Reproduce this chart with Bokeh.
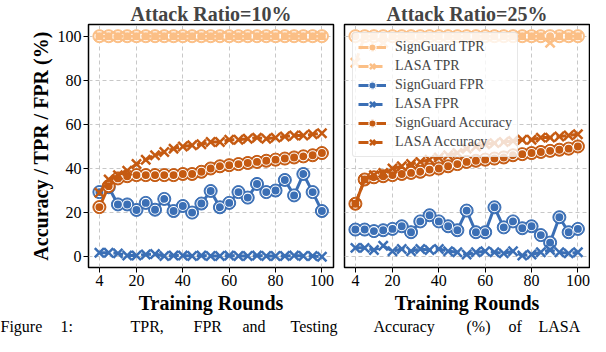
from bokeh.plotting import figure
from bokeh.layouts import column, row
from bokeh.models import FixedTicker, Legend, LegendItem, Label, Range1d
from bokeh.embed import file_html
from bokeh.resources import INLINE

# ---------------- data ----------------
rounds = [4, 8, 12, 16, 20, 24, 28, 32, 36, 40, 44, 48, 52,
          56, 60, 64, 68, 72, 76, 80, 84, 88, 92, 96, 100]
x_ticks = [4, 20, 40, 60, 80, 100]
y_ticks = [0, 20, 40, 60, 80, 100]
titles = ["Attack Ratio=10%", "Attack Ratio=25%"]
series_names = ["SignGuard TPR", "LASA TPR", "SignGuard FPR", "LASA FPR",
                "SignGuard Accuracy", "LASA Accuracy"]

# Attack ratio 10%
sg_tpr_10 = [100, 100, 100, 100, 100, 100, 100, 100, 100, 100, 100, 100, 100,
             100, 100, 100, 100, 100, 100, 100, 100, 100, 100, 100, 100]
lasa_tpr_10 = [100, 100, 100, 100, 100, 100, 100, 100, 100, 100, 100, 100, 100,
               100, 100, 100, 100, 100, 100, 100, 100, 100, 100, 100, 100]
sg_fpr_10 = [29.3, 31.5, 23.7, 23.7, 21.2, 24.4, 21.3, 26.2, 20.7, 23.0, 20.0, 24.1, 29.8,
             22.4, 24.4, 29.3, 26.8, 33.0, 29.3, 30.0, 34.8, 27.8, 37.5, 29.3, 20.7]
lasa_fpr_10 = [1.8, 1.8, 1.5, 0.5, 0.5, 1.0, 1.2, 0.3, 0.5, 0.5, 0.3, 0.5, 0.3,
               0.3, 0.5, 0.3, 0.3, 0.5, 0.3, 0.3, 0.3, 0.5, 0.3, 0.3, 0.0]
sg_acc_10 = [22.5, 32.0, 35.5, 36.5, 37.0, 37.0, 37.0, 37.0, 37.0, 37.5, 37.5, 38.5, 40.0,
             41.0, 41.5, 42.0, 42.5, 43.0, 43.5, 44.0, 44.5, 45.0, 45.5, 46.0, 47.0]
lasa_acc_10 = [29.0, 35.0, 37.0, 39.0, 42.0, 44.0, 46.0, 47.5, 49.0, 50.0, 50.5, 51.0, 52.0,
               52.0, 53.0, 53.0, 53.5, 54.0, 53.5, 54.0, 54.5, 55.0, 55.0, 55.5, 56.0]

# Attack ratio 25%
sg_tpr_25 = [100, 100, 100, 100, 100, 100, 100, 100, 100, 100, 100, 100, 100,
             100, 100, 100, 100, 100, 100, 100, 100, 100, 100, 100, 100]
lasa_tpr_25 = [88, 100, 100, 97, 100, 100, 100, 100, 100, 100, 100, 100, 100,
               100, 100, 100, 100, 100, 100, 100, 100, 97, 100, 100, 100]
sg_fpr_25 = [12.3, 12.3, 11.6, 12.0, 12.6, 13.8, 11.1, 16.0, 18.8, 16.0, 13.8, 12.0, 20.9,
             11.1, 11.1, 22.4, 13.3, 16.0, 12.9, 13.8, 9.8, 6.4, 17.9, 11.1, 12.6]
lasa_fpr_25 = [4.0, 4.0, 3.0, 5.0, 2.5, 3.5, 2.5, 3.5, 3.0, 3.5, 2.5, 2.0, 1.0,
               2.0, 2.5, 2.0, 1.5, 2.5, 0.5, 1.0, 2.0, 3.0, 2.0, 1.5, 2.0]
sg_acc_25 = [24.0, 35.0, 36.0, 36.5, 37.0, 37.5, 38.0, 38.5, 39.5, 40.0, 41.0, 42.0, 43.0,
             43.5, 44.0, 44.5, 45.0, 46.0, 46.5, 47.0, 47.5, 48.0, 48.5, 49.0, 50.0]
lasa_acc_25 = [24.0, 35.0, 37.0, 38.0, 40.0, 41.0, 42.0, 43.0, 44.0, 45.0, 46.0, 47.0, 49.0,
               50.0, 51.0, 51.5, 52.0, 52.5, 53.0, 53.0, 54.0, 54.0, 54.5, 55.0, 55.5]

caption_words = ["Figure", "1:", "TPR,", "FPR", "and", "Testing", "Accuracy", "(%)", "of", "LASA"]
caption_x = [0, 60, 130, 193, 242, 290, 373, 466, 508, 538]

# ---------------- style ----------------
C_TPR = "#fbbf86"
C_FPR = "#3b6fb5"
C_ACC = "#c55a11"
SERIF = "Liberation Serif"
DASH = "10 4"
PANEL_H = 316


def circle_series(p, y, color):
    r1 = p.line(rounds, y, line_color=color, line_width=3)
    r2 = p.scatter(rounds, y, marker="circle", size=13, fill_color=color, line_color=color)
    r3 = p.scatter(rounds, y, marker="circle", size=9, fill_color=color,
                   line_color="white", line_width=1.1)
    return [r1, r2, r3]


def cross_series(p, y, color):
    r1 = p.line(rounds, y, line_color=color, line_width=3, line_dash=DASH)
    r2 = p.scatter(rounds, y, marker="x", size=13, line_color=color, line_width=2.5)
    return [r1, r2]


def make_panel(title, data, first):
    p = figure(width=338 if first else 252, height=PANEL_H,
               x_range=Range1d(-0.7, 105.0), y_range=Range1d(-4.9, 105.3),
               output_backend="svg", toolbar_location=None,
               y_axis_location="left" if first else None,
               min_border_left=88 if first else 6, min_border_right=5 if first else 1,
               min_border_top=0, min_border_bottom=0,
               title=title)
    p.title.text_font = SERIF
    p.title.text_font_style = "bold"
    p.title.text_font_size = "20px"
    p.title.align = "center"
    p.title.standoff = 0
    p.title.offset = 0
    p.outline_line_color = "black"
    p.outline_line_width = 1.5
    p.background_fill_color = "white"
    p.border_fill_color = "white"

    p.xgrid.ticker = FixedTicker(ticks=x_ticks)
    p.ygrid.ticker = FixedTicker(ticks=y_ticks)
    for g in (p.xgrid, p.ygrid):
        g.grid_line_color = "#c8c8c8"
        g.grid_line_dash = "4 3"
        g.grid_line_width = 1

    axes = list(p.xaxis) + (list(p.yaxis) if first else [])
    for ax in axes:
        ax.axis_line_color = None
        ax.major_tick_out = 5
        ax.major_tick_in = 0
        ax.minor_tick_line_color = None
        ax.major_tick_line_color = "black"
        ax.major_label_text_font = SERIF
        ax.major_label_text_font_size = "16px"
        ax.major_label_text_color = "black"
        ax.major_label_standoff = 2
        ax.axis_label_text_font = SERIF
        ax.axis_label_text_font_style = "bold"
        ax.axis_label_text_font_size = "20px"
        ax.axis_label_text_color = "black"
        ax.axis_label_standoff = 3
    p.xaxis.ticker = FixedTicker(ticks=x_ticks)
    p.xaxis.axis_label = "Training Rounds"
    if first:
        p.yaxis.ticker = FixedTicker(ticks=y_ticks)
        p.yaxis.axis_label = "Accuracy / TPR / FPR (%)"
        p.yaxis.axis_label_standoff = 3

    tpr_sg, tpr_la, fpr_sg, fpr_la, acc_sg, acc_la = data
    groups = [
        circle_series(p, tpr_sg, C_TPR),
        cross_series(p, tpr_la, C_TPR),
        circle_series(p, fpr_sg, C_FPR),
        cross_series(p, fpr_la, C_FPR),
        circle_series(p, acc_sg, C_ACC),
        cross_series(p, acc_la, C_ACC),
    ]
    if not first:
        items = [LegendItem(label=n, renderers=g) for n, g in zip(series_names, groups)]
        leg = Legend(items=items, location="top_left",
                     label_text_font=SERIF, label_text_font_size="14px",
                     glyph_width=28, glyph_height=18, label_height=18,
                     spacing=1, padding=5, margin=8, label_standoff=9,
                     background_fill_alpha=0.8, border_line_color="#d0d0d0",
                     border_line_width=1, border_radius=3)
        p.add_layout(leg, "center")
    return p


p1 = make_panel(titles[0], [sg_tpr_10, lasa_tpr_10, sg_fpr_10, lasa_fpr_10, sg_acc_10, lasa_acc_10], True)
p2 = make_panel(titles[1], [sg_tpr_25, lasa_tpr_25, sg_fpr_25, lasa_fpr_25, sg_acc_25, lasa_acc_25], False)

cap = figure(width=590, height=20, output_backend="svg", toolbar_location=None,
             x_axis_location=None, y_axis_location=None,
             min_border=0, outline_line_color=None,
             x_range=Range1d(0, 1), y_range=Range1d(0, 1))
cap.xgrid.visible = False
cap.ygrid.visible = False
for w, xx in zip(caption_words, caption_x):
    cap.add_layout(Label(x=xx, y=19, x_units="screen", y_units="screen", text=w,
                         text_font=SERIF, text_font_size="16px", text_baseline="top",
                         text_color="black"))

layout = column(row(p1, p2), cap)
open("out.html", "w").write(file_html(layout, INLINE))
